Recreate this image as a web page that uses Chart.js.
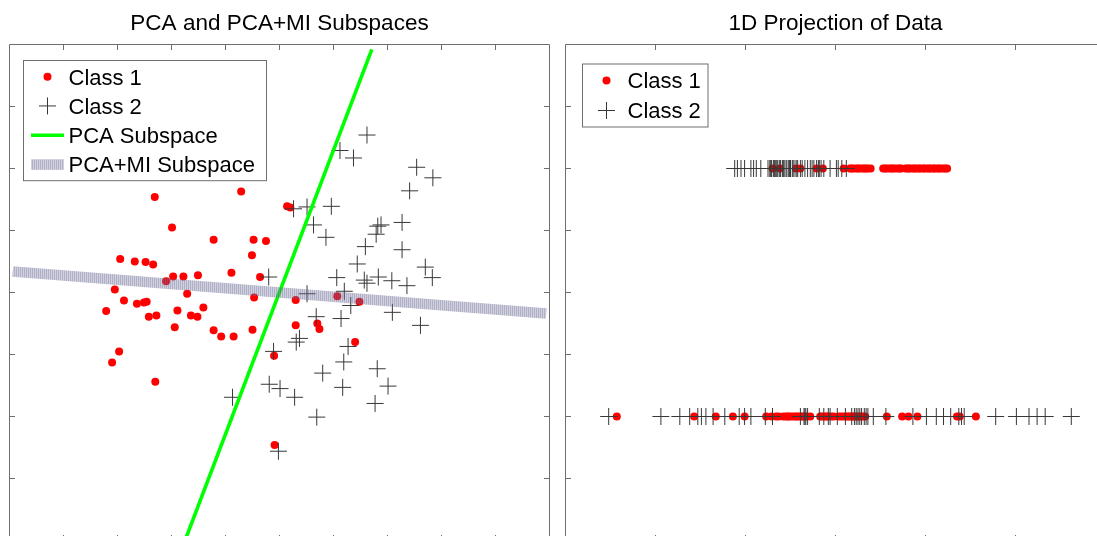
<!DOCTYPE html>
<html>
<head>
<meta charset="utf-8">
<script src="https://cdn.jsdelivr.net/npm/chart.js@4.4.1/dist/chart.umd.min.js"></script>
<style>
  html, body { margin: 0; padding: 0; background: #fff; overflow: hidden; }
  #fig { position: relative; width: 1097px; height: 536px; overflow: hidden; background: #fff; }
  #fig canvas { position: absolute; top: 0; }
  #left { left: 0; }
  #right { left: 556px; }
</style>
</head>
<body>
<div id="fig">
  <canvas id="left" width="560" height="560"></canvas>
  <canvas id="right" width="560" height="560"></canvas>
</div>
<script>
// ---- 2-D samples ----
const class1X = [-2.31,-0.71,-1.99,-1.22,-0.48,-0.25,0.14,0.20,-2.95,-2.68,-2.48,-2.34,-0.51,-0.89,-0.36,-1.97,-1.78,-1.51,-2.10,-3.05,-1.71,-0.47,-2.88,-2.64,-2.51,-2.46,-3.21,-1.89,-1.41,-2.42,-2.28,-1.64,-1.52,-1.94,-1.22,-1.08,-0.85,-0.50,-2.97,-3.10,-2.30,-0.10,-0.09,0.30,1.07,1.48,0.30,0.70,0.74,1.40];
const class1Y = [1.54,1.63,1.05,0.85,0.85,0.83,1.39,1.37,0.54,0.50,0.49,0.45,0.60,0.32,0.25,0.26,0.26,0.28,0.18,0.05,-0.02,-0.08,-0.13,-0.18,-0.16,-0.15,-0.30,-0.29,-0.24,-0.39,-0.37,-0.37,-0.39,-0.56,-0.61,-0.71,-0.71,-0.60,-0.95,-1.13,-1.44,-1.02,-2.46,-0.12,-0.06,-0.15,-0.53,-0.50,-0.59,-0.80];
const class2X = [1.62,1.12,1.37,2.54,2.84,2.41,0.26,0.51,0.96,0.63,1.82,1.88,2.27,0.86,1.79,1.59,2.27,1.44,2.70,2.83,1.06,1.57,1.62,1.83,2.08,2.36,-0.20,0.51,1.20,1.32,2.09,0.68,1.14,2.61,0.37,0.31,1.27,-0.11,1.19,0.80,1.81,-0.19,0.01,1.17,2.01,0.28,1.77,0.69,-0.02,-0.87];
const class2Y = [2.54,2.29,2.17,2.02,1.85,1.64,1.35,1.38,1.39,1.09,1.07,1.09,1.13,0.89,0.94,0.74,0.69,0.46,0.41,0.24,0.24,0.20,0.15,0.25,0.19,0.11,0.25,-0.02,0.02,-0.21,-0.32,-0.39,-0.42,-0.53,-0.74,-0.80,-0.87,-0.95,-1.12,-1.30,-1.23,-1.48,-1.55,-1.53,-1.51,-1.69,-1.79,-2.01,-2.56,-1.69];

// ---- subspace directions (segment end points) ----
const pcaLineX = [-1.95, 1.71];
const pcaLineY = [-4.46, 3.92];
const miLineX  = [-4.94, 4.94];
const miLineY  = [0.34, -0.34];

// ---- 1-D projections ----
const rowLevel = { pcaMi: 2, pca: -2 };
const projMiClass1 = [-0.70,-0.62,-0.44,-0.39,-0.21,-0.14,0.09,0.16,0.18,0.20,0.23,0.25,0.27,0.30,0.32,0.34,0.36,0.39,0.53,0.55,0.57,0.60,0.62,0.64,0.66,0.69,0.71,0.73,0.78,0.80,0.82,0.84,0.87,0.88,0.91,0.93,0.95,0.98,0.99,1.02,1.04,1.06,1.09,1.10,1.13,1.15,1.17,1.20,1.22,1.24];
const projMiClass2 = [-1.12,-1.09,-1.05,-1.01,-0.94,-0.91,-0.88,-0.83,-0.75,-0.73,-0.72,-0.71,-0.69,-0.68,-0.67,-0.66,-0.65,-0.64,-0.62,-0.61,-0.59,-0.58,-0.57,-0.55,-0.54,-0.52,-0.51,-0.50,-0.48,-0.47,-0.45,-0.43,-0.42,-0.39,-0.37,-0.34,-0.31,-0.28,-0.26,-0.24,-0.21,-0.19,-0.18,-0.16,-0.13,-0.06,0.01,0.03,0.07,0.12];
const projPcaClass1 = [-2.43,-1.57,-1.33,-1.14,-1.01,-0.77,-0.71,-0.66,-0.63,-0.58,-0.55,-0.53,-0.51,-0.48,-0.45,-0.43,-0.41,-0.38,-0.36,-0.34,-0.32,-0.28,-0.17,-0.15,-0.12,-0.10,-0.08,-0.05,-0.02,0.03,0.06,0.09,0.12,0.14,0.16,0.18,0.20,0.22,0.24,0.26,0.28,0.31,0.33,0.57,0.74,0.81,0.91,1.35,1.38,1.56];
const projPcaClass2 = [-2.52,-1.94,-1.73,-1.62,-1.53,-1.49,-1.44,-1.36,-1.23,-1.07,-1.01,-0.94,-0.78,-0.70,-0.39,-0.35,-0.34,-0.33,-0.31,-0.18,-0.13,-0.08,-0.06,0.02,0.11,0.18,0.21,0.23,0.25,0.27,0.29,0.32,0.34,0.36,0.42,0.56,0.86,1.01,1.12,1.20,1.28,1.37,1.40,1.43,1.78,2.01,2.15,2.24,2.33,2.62];

// ---- tick positions (unlabelled, MATLAB-style inward ticks) ----
const leftXTicks  = [-4,-3,-2,-1,0,1,2,3,4];
const leftYTicks  = [-3,-2,-1,0,1,2,3];
const rightXTicks = [-2,-1,0,1,2];
const rightYTicks = [-3,-2,-1,0,1,2,3];

const zip = (xs, ys) => xs.map((x, i) => ({ x, y: ys[i] }));
const onRow = (xs, level) => xs.map(x => ({ x, y: level }));

const FONT = "'Liberation Sans', Arial, Helvetica, sans-serif";
const AXIS_GREY = '#6e6e6e';
const RED = '#ff0000';
const PLUS = '#383838';

// Semi-transparent striped fill for the thick PCA+MI line
function stripes(ctx) {
  const c = document.createElement('canvas');
  c.width = 2; c.height = 1;
  const g = c.getContext('2d');
  g.fillStyle = 'rgba(90,90,135,0.48)';  g.fillRect(0, 0, 1, 1);
  g.fillStyle = 'rgba(125,125,165,0.36)'; g.fillRect(1, 0, 1, 1);
  return ctx.createPattern(c, 'repeat');
}

// Box around the plot area with short inward tick marks on all four sides
const axesFrame = {
  id: 'axesFrame',
  afterDraw(chart, _args, o) {
    const { ctx, chartArea: a } = chart;
    const sx = chart.scales.x, sy = chart.scales.y;
    ctx.save();
    ctx.strokeStyle = o.color;
    ctx.lineWidth = 1;
    ctx.beginPath();
    ctx.rect(a.left, a.top, a.right - a.left, a.bottom - a.top);
    o.xTicks.forEach(v => {
      const p = sx.getPixelForValue(v);
      ctx.moveTo(p, a.top);    ctx.lineTo(p, a.top + o.len);
      ctx.moveTo(p, a.bottom); ctx.lineTo(p, a.bottom - o.len);
    });
    o.yTicks.forEach(v => {
      const p = sy.getPixelForValue(v);
      ctx.moveTo(a.left, p);  ctx.lineTo(a.left + o.len, p);
      ctx.moveTo(a.right, p); ctx.lineTo(a.right - o.len, p);
    });
    ctx.stroke();
    ctx.restore();
  }
};

// Boxed legend inside the plot area, entries taken from the datasets
const boxLegend = {
  id: 'boxLegend',
  afterDraw(chart, _args, o) {
    const { ctx, chartArea: a } = chart;
    const items = chart.data.datasets.filter(d => d.label);
    const x0 = a.left + o.dx, y0 = a.top + o.dy;
    const h = o.pad * 2 + items.length * o.row;
    ctx.save();
    ctx.fillStyle = '#fff';
    ctx.fillRect(x0, y0, o.width, h);
    ctx.strokeStyle = o.border;
    ctx.lineWidth = 1;
    ctx.strokeRect(x0, y0, o.width, h);
    items.forEach((d, i) => {
      const cy = y0 + o.pad + o.row * (i + 0.5);
      const mx = x0 + o.markX;
      if (d.showLine) {
        if (d.borderWidth > 6) {
          ctx.fillStyle = d.borderColor;
          ctx.fillRect(mx - 16.5, cy - d.borderWidth / 2, 33, d.borderWidth);
        } else {
          ctx.strokeStyle = d.borderColor;
          ctx.lineWidth = d.borderWidth;
          ctx.beginPath(); ctx.moveTo(mx - 16.5, cy); ctx.lineTo(mx + 16.5, cy); ctx.stroke();
        }
      } else if (d.pointStyle === 'cross') {
        const r = d.pointRadius;
        ctx.strokeStyle = d.pointBorderColor;
        ctx.lineWidth = d.pointBorderWidth;
        ctx.beginPath();
        ctx.moveTo(mx - r, cy); ctx.lineTo(mx + r, cy);
        ctx.moveTo(mx, cy - r); ctx.lineTo(mx, cy + r);
        ctx.stroke();
      } else {
        ctx.fillStyle = d.pointBackgroundColor;
        ctx.beginPath(); ctx.arc(mx, cy, d.pointRadius, 0, Math.PI * 2); ctx.fill();
      }
      ctx.fillStyle = '#000';
      ctx.font = o.font;
      ctx.textBaseline = 'alphabetic';
      ctx.textAlign = 'left';
      ctx.fillText(d.label, x0 + o.textX, cy + o.capMid);
    });
    ctx.restore();
  }
};

function baseOptions(title, xr, yr, xTicks, yTicks, legend) {
  return {
    responsive: false,
    animation: false,
    events: [],
    layout: { padding: { left: 9.5, right: 10.5, top: 0, bottom: 19.5 } },
    scales: {
      x: { type: 'linear', min: xr[0], max: xr[1], display: false },
      y: { type: 'linear', min: yr[0], max: yr[1], display: false }
    },
    plugins: {
      legend: { display: false },
      tooltip: { enabled: false },
      title: {
        display: true, text: title, fullSize: false, color: '#000',
        font: { family: FONT, size: 22.5, weight: 'normal', lineHeight: 1.2 },
        padding: { top: 10, bottom: 7.5 }
      },
      axesFrame: { color: AXIS_GREY, len: 5.5, xTicks, yTicks },
      boxLegend: Object.assign({
        border: AXIS_GREY, pad: 1.5, markX: 24, textX: 45, capMid: 7.9,
        font: '22px ' + FONT
      }, legend)
    }
  };
}

const classStyle = {
  c1: { pointStyle: 'circle', pointRadius: 4, pointBackgroundColor: RED, pointBorderWidth: 0, backgroundColor: RED },
  c2: { pointStyle: 'cross', pointRadius: 8.5, pointBorderColor: PLUS, pointBorderWidth: 1, borderColor: PLUS }
};

// ---- left: samples with the two subspaces ----
const leftCtx = document.getElementById('left').getContext('2d');
new Chart(leftCtx, {
  type: 'scatter',
  data: {
    datasets: [
      Object.assign({ label: 'Class 1', data: zip(class1X, class1Y), order: 3 }, classStyle.c1),
      Object.assign({ label: 'Class 2', data: zip(class2X, class2Y), order: 2 }, classStyle.c2),
      { label: 'PCA Subspace', data: zip(pcaLineX, pcaLineY), showLine: true, pointRadius: 0,
        borderColor: '#00ff00', borderWidth: 3.6, order: 1 },
      { label: 'PCA+MI Subspace', data: zip(miLineX, miLineY), showLine: true, pointRadius: 0,
        borderColor: stripes(leftCtx), borderWidth: 10.5, borderCapStyle: 'butt', order: 0 }
    ]
  },
  options: baseOptions('PCA and PCA+MI Subspaces', [-5, 5], [-4, 4], leftXTicks, leftYTicks,
    { dx: 14, dy: 16, width: 243, row: 29.3 }),
  plugins: [axesFrame, boxLegend]
});

// ---- right: projections onto each subspace ----
const rightCtx = document.getElementById('right').getContext('2d');
new Chart(rightCtx, {
  type: 'scatter',
  data: {
    datasets: [
      Object.assign({ label: 'Class 1', order: 3,
        data: onRow(projMiClass1, rowLevel.pcaMi).concat(onRow(projPcaClass1, rowLevel.pca)) }, classStyle.c1),
      Object.assign({ label: 'Class 2', order: 2,
        data: onRow(projMiClass2, rowLevel.pcaMi).concat(onRow(projPcaClass2, rowLevel.pca)) }, classStyle.c2)
    ]
  },
  options: baseOptions('1D Projection of Data', [-3, 3], [-4, 4], rightXTicks, rightYTicks,
    { dx: 17, dy: 19.5, width: 125.5, row: 30 }),
  plugins: [axesFrame, boxLegend]
});
</script>
</body>
</html>
